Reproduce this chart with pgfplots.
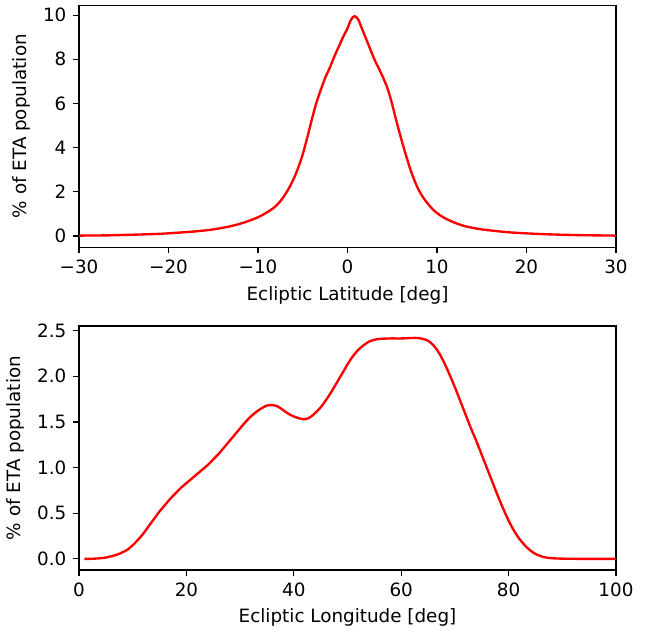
\documentclass[border=0pt]{standalone}
\usepackage{fontspec}
\setmainfont{DejaVu Sans}
\usepackage{pgfplots}
\pgfplotsset{compat=1.18}
\begin{document}
\fontsize{13.2}{15.8}\selectfont
\begin{tikzpicture}
\useasboundingbox (0,0) rectangle (468pt,455.8pt);
\pgfplotsset{every axis/.append style={
  scale only axis, width=386.6pt,
  axis line style={line width=0.8pt, black},
  tick align=outside, major tick length=4.5pt,
  every tick/.style={black, line width=0.8pt},
  xtick pos=left, ytick pos=left,
  tick label style={font=\fontsize{13.2}{15.8}\selectfont, black},
  label style={font=\fontsize{13.2}{15.8}\selectfont, black},
  /pgf/number format/assume math mode=true,
  scaled ticks=false,
  ylabel={\% of ETA population},
}}
\begin{axis}[
  at={(56.9pt,277.9pt)}, anchor=south west, height=174.2pt,
  xmin=-30, xmax=30, ymin=-0.5, ymax=10.45,
  xtick={-30,-20,-10,0,10,20,30},
  xticklabels={−30,−20,−10,0,10,20,30},
  ytick={0,2,4,6,8,10},
  xlabel={Ecliptic Latitude [deg]},
]
\addplot[red, line width=1.7pt, smooth, tension=0.5] coordinates {
(-30,0.02) (-27,0.03) (-24,0.06) (-21,0.10) (-19,0.15) (-17,0.21) (-15,0.30)
(-13,0.45) (-11.5,0.62) (-10,0.85) (-9,1.07) (-8.5,1.2) (-8,1.36) (-7.5,1.58) (-7,1.86)
(-6.5,2.2) (-6,2.6) (-5.5,3.1) (-5,3.7) (-4.5,4.45) (-4,5.25) (-3.5,6.0) (-3,6.6)
(-2.5,7.15) (-2,7.6) (-1.5,8.1) (-1,8.55) (-0.5,9.0) (0,9.4) (0.4,9.8)
(0.8,9.95) (1.2,9.8) (1.6,9.4) (2,9.0) (2.5,8.5) (3,8.0) (3.6,7.5) (4,7.15)
(4.5,6.65) (5,5.95) (5.5,5.15) (6,4.4) (6.5,3.7) (7,3.05) (7.5,2.5) (8,2.05)
(8.5,1.72) (9,1.45) (9.5,1.22) (10,1.04) (10.5,0.9) (11,0.78) (12,0.6) (13,0.46)
(14,0.37) (15,0.30) (16.5,0.23) (18,0.17) (20,0.12) (23,0.07) (26,0.04) (30,0.02)
};
\end{axis}
\begin{axis}[
  at={(56.9pt,45.4pt)}, anchor=south west, height=175.7pt,
  xmin=0, xmax=100, ymin=-0.1215, ymax=2.5515,
  xtick={0,20,40,60,80,100},
  ytick={0,0.5,1,1.5,2,2.5},
  yticklabel style={/pgf/number format/.cd, fixed, fixed zerofill, precision=1},
  xlabel={Ecliptic Longitude [deg]},
]
\addplot[red, line width=1.7pt, smooth, tension=0.5] coordinates {
(1,0.0) (3,0.003) (5,0.015) (7,0.045) (8,0.07) (9,0.10) (10,0.15) (11,0.21)
(12,0.28) (13,0.36) (14,0.44) (15,0.52) (16,0.59) (17,0.66) (18,0.72) (19,0.78)
(20,0.83) (21,0.88) (22,0.93) (23,0.98) (24,1.03) (25,1.09) (26,1.15) (27,1.22)
(28,1.29) (29,1.36) (30,1.43) (31,1.50) (32,1.56) (33,1.61) (34,1.65) (35,1.68)
(36,1.685) (37,1.67) (38,1.63) (39,1.59) (40,1.56) (41,1.54) (42,1.53) (43,1.55)
(44,1.60) (45,1.66) (46,1.74) (47,1.83) (48,1.93) (49,2.03) (50,2.13) (51,2.22)
(52,2.29) (53,2.34) (54,2.38) (55,2.40) (56,2.41) (58,2.415) (60,2.415) (62,2.42)
(63,2.42) (64,2.41) (65,2.39) (66,2.34) (67,2.26) (68,2.15) (69,2.02) (70,1.88)
(71,1.73) (72,1.58) (73,1.43) (74,1.29) (75,1.14) (76,0.99) (77,0.84) (78,0.69)
(79,0.55) (80,0.42) (81,0.31) (82,0.22) (83,0.15) (84,0.095) (85,0.055) (86,0.03)
(87,0.015) (88,0.008) (90,0.003) (95,0.0) (100,0.0)
};
\end{axis}
\end{tikzpicture}
\end{document}
